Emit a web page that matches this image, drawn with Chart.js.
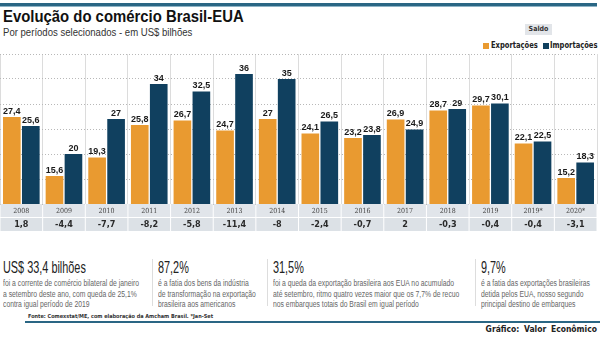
<!DOCTYPE html>
<html lang="pt-BR">
<head>
<meta charset="UTF-8">
<title>Evolução do comércio Brasil-EUA</title>
<style>
  body { margin: 0; width: 600px; height: 338px; position: relative; background: #fff; overflow: hidden;
         font-family: "Liberation Sans", sans-serif; color: #222; }
  .abs { position: absolute; white-space: nowrap; transform-origin: left top; }
  #topline { left: 0; top: 3px; width: 597px; height: 3px; background: #2a6684; border-bottom: 1px solid #8fb4c6; }
  #title { left: 3px; top: 8px; font-size: 16px; font-weight: bold; color: #111; transform: scaleX(0.93); }
  #subtitle { left: 3px; top: 26px; font-size: 11px; color: #333; transform: scaleX(0.87); }
  #saldo { left: 525px; top: 24px; width: 27px; height: 11px; background: #e2e5e9; font-size: 7px; font-weight: bold;
           line-height: 11px; text-align: center; color: #333; font-family: "DejaVu Sans Condensed", sans-serif; }
  .leg { top: 41px; font-size: 8px; font-weight: bold; color: #222; font-family: "DejaVu Sans Condensed", sans-serif; transform: scaleX(0.94); }
  .sw { top: 43px; width: 6px; height: 6px; }
  #chartbox { left: 0; top: 50px; width: 600px; height: 185px; }
  .big { font-size: 16px; color: #222; top: 259px; transform: scaleX(0.68); }
  .desc { font-size: 8.5px; color: #666; line-height: 10.5px; top: 278px; transform: scaleX(0.8); }
  .sep { width: 1px; background: #ddd; top: 259px; height: 47px; }
  #fonte { left: 28px; top: 313px; font-size: 5.5px; color: #333; font-weight: bold; font-family: "DejaVu Sans Condensed", sans-serif; }
  #fline { left: 25px; top: 321px; width: 575px; height: 1.5px; background: #2a6684; }
  #credito { right: 3px; top: 324px; font-size: 8.5px; font-weight: bold; color: #222; font-family: "DejaVu Sans Condensed", sans-serif; word-spacing: 2px; }
</style>
</head>
<body>
  <div class="abs" id="topline"></div>
  <div class="abs" id="title">Evolução do comércio Brasil-EUA</div>
  <div class="abs" id="subtitle">Por períodos selecionados - em US$ bilhões</div>
  <div class="abs" id="saldo">Saldo</div>
  <div class="abs sw" style="left:483px;background:#e99a30"></div>
  <div class="abs leg" style="left:491px">Exportações</div>
  <div class="abs sw" style="left:543px;background:#10405f"></div>
  <div class="abs leg" style="left:550px">Importações</div>
  <div class="abs" id="chartbox"><canvas id="myChart"></canvas></div>

  <div class="abs big" style="left:3px">US$ 33,4 bilhões</div>
  <div class="abs desc" style="left:3px">foi a corrente de comércio bilateral de janeiro<br>a setembro deste ano, com queda de 25,1%<br>contra igual período de 2019</div>
  <div class="abs sep" style="left:152px"></div>
  <div class="abs big" style="left:158px">87,2%</div>
  <div class="abs desc" style="left:158px">é a fatia dos bens da indústria<br>de transformação na exportação<br>brasileira aos americanos</div>
  <div class="abs sep" style="left:267px"></div>
  <div class="abs big" style="left:273px">31,5%</div>
  <div class="abs desc" style="left:273px">foi a queda da exportação brasileira aos EUA no acumulado<br>até setembro, ritmo quatro vezes maior que os 7,7% de recuo<br>nos embarques totais do Brasil em igual período</div>
  <div class="abs sep" style="left:475px"></div>
  <div class="abs big" style="left:481px">9,7%</div>
  <div class="abs desc" style="left:481px">é a fatia das exportações brasileiras<br>detida pelos EUA, nosso segundo<br>principal destino de embarques</div>

  <div class="abs" id="fonte">Fonte: Comexstat/ME, com elaboração da Amcham Brasil. *Jan-Set</div>
  <div class="abs" id="fline"></div>
  <div class="abs" id="credito">Gráfico: Valor Econômico</div>

  <script src="https://cdn.jsdelivr.net/npm/chart.js"></script>
  <script>
    const categories = ['2008', '2009', '2010', '2011', '2012', '2013', '2014', '2015', '2016', '2017', '2018', '2019', '2019*', '2020*'];
    const exportacoes = [27.4, 15.6, 19.3, 25.8, 26.7, 24.7, 27, 24.1, 23.2, 26.9, 28.7, 29.7, 22.1, 15.2];
    const importacoes = [25.6, 20, 27, 34, 32.5, 36, 35, 26.5, 23.8, 24.9, 29, 30.1, 22.5, 18.3];
    const saldo = [1.8, -4.4, -7.7, -8.2, -5.8, -11.4, -8, -2.4, -0.7, 2, -0.3, -0.4, -0.4, -3.1];

    const fmt = v => String(v).replace('.', ',');

    // numbers over the bars
    const barLabels = {
      id: 'barLabels',
      afterDatasetsDraw(chart) {
        const c = chart.ctx;
        c.save();
        c.font = 'bold 9px "Liberation Sans", sans-serif';
        c.fillStyle = '#1a1a1a';
        c.textAlign = 'center';
        c.textBaseline = 'bottom';
        chart.data.datasets.forEach((ds, i) => {
          chart.getDatasetMeta(i).data.forEach((bar, j) => {
            c.fillText(fmt(ds.data[j]), bar.x, bar.y - 1);
          });
        });
        c.restore();
      }
    };

    // year row + saldo row under the plot
    const tableRows = {
      id: 'tableRows',
      afterDraw(chart) {
        const c = chart.ctx;
        const x = chart.scales.x;
        const a = chart.chartArea;
        const w = x.width / categories.length;
        c.save();
        c.textAlign = 'center';
        c.textBaseline = 'middle';
        categories.forEach((cat, i) => {
          const cx = x.getPixelForValue(i);
          const left = cx - w / 2;
          c.fillStyle = '#e1e5ea';
          c.fillRect(left + 0.5, a.bottom, w - 1, 13);
          c.fillStyle = '#dce1e6';
          c.fillRect(left + 0.5, a.bottom + 14, w - 1, 13);
          c.fillStyle = '#444';
          c.font = '7px "DejaVu Serif Condensed", serif';
          c.fillText(cat, cx, a.bottom + 7);
          c.fillStyle = '#2a2a2a';
          c.font = 'bold 9px "DejaVu Sans Condensed", sans-serif';
          c.fillText(fmt(saldo[i]), cx, a.bottom + 21);
        });
        c.restore();
      }
    };

    new Chart(document.getElementById('myChart'), {
      type: 'bar',
      data: {
        labels: categories,
        datasets: [
          { label: 'Exportações', data: exportacoes, backgroundColor: '#e99a30' },
          { label: 'Importações', data: importacoes, backgroundColor: '#10405f' }
        ]
      },
      options: {
        responsive: true,
        maintainAspectRatio: false,
        animation: false,
        categoryPercentage: 0.89,
        barPercentage: 0.93,
        layout: { padding: { left: 0, right: 3, top: 4, bottom: 31 } },
        plugins: { legend: { display: false }, tooltip: { enabled: false } },
        scales: {
          x: {
            ticks: { display: false },
            grid: { color: '#dcdcdc', drawTicks: false, offset: true },
            border: { display: false }
          },
          y: {
            min: 10, max: 40,
            ticks: { display: false, stepSize: 5 },
            grid: { color: '#b8b8b8', drawTicks: false },
            border: { display: false, dash: [1, 2] }
          }
        }
      },
      plugins: [barLabels, tableRows]
    });
  </script>
</body>
</html>
